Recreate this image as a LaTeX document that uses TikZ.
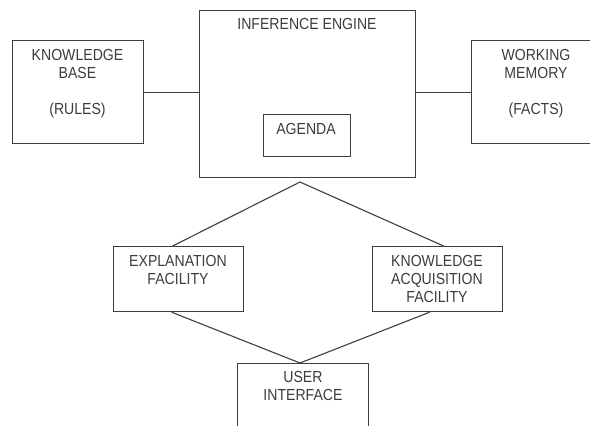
\documentclass[tikz,border=0pt]{standalone}
\usepackage{fontspec}
\setmainfont{Liberation Sans}[FakeStretch=0.88]
\definecolor{linecol}{RGB}{62,62,62}
\definecolor{textcol}{RGB}{60,60,60}
\begin{document}
\begin{tikzpicture}[x=1pt,y=-1pt,
  box/.style={draw=linecol, line width=1.2pt, rectangle, inner sep=0pt, anchor=north west},
  lbl/.style={text=textcol, align=center, inner sep=0pt, anchor=north, font=\fontsize{16}{18}\selectfont},
  conn/.style={draw=linecol, line width=1.1pt}]
\useasboundingbox (0,0) rectangle (590,426);
\clip (0,0) rectangle (590,426);
% boxes
\node[box, minimum width=131, minimum height=103] (kb) at (12,40) {};
\node[box, minimum width=216, minimum height=167] (ie) at (199,10) {};
\node[box, minimum width=87, minimum height=42] (ag) at (263,114) {};
\node[box, minimum width=140, minimum height=103] (wm) at (471,40) {};
\node[box, minimum width=130, minimum height=65] (ex) at (113,246) {};
\node[box, minimum width=130, minimum height=65] (kaf) at (372,246) {};
\node[box, minimum width=131, minimum height=90] (ui) at (237,363) {};
% texts
\node[lbl] (kbt) at (77.5,49.5) {KNOWLEDGE\\BASE\\[18pt](RULES)};
\node[lbl] (iet) at (307,18.5) {INFERENCE ENGINE};
\node[lbl] (agt) at (306,123.5) {AGENDA};
\node[lbl] (wmt) at (536,49.5) {WORKING\\MEMORY\\[18pt](FACTS)};
\node[lbl] (ext) at (178,255.5) {EXPLANATION\\FACILITY};
\node[lbl] (kaft) at (437,255.5) {KNOWLEDGE\\ACQUISITION\\FACILITY};
\node[lbl] (uit) at (303,371.5) {USER\\INTERFACE};
% connectors
\coordinate (apex) at (300,182);
\coordinate (uitop) at (300,363);
\draw[conn] (kb.east) -- (kb.east -| ie.west);
\draw[conn] (ie.east |- wm.west) -- (wm.west);
\draw[conn] ([xshift=-6pt]ex.north) -- (apex) -- ([xshift=6pt]kaf.north);
\draw[conn] ([xshift=-7pt]ex.south) -- (uitop) -- ([xshift=-8pt]kaf.south);
\end{tikzpicture}
\end{document}
